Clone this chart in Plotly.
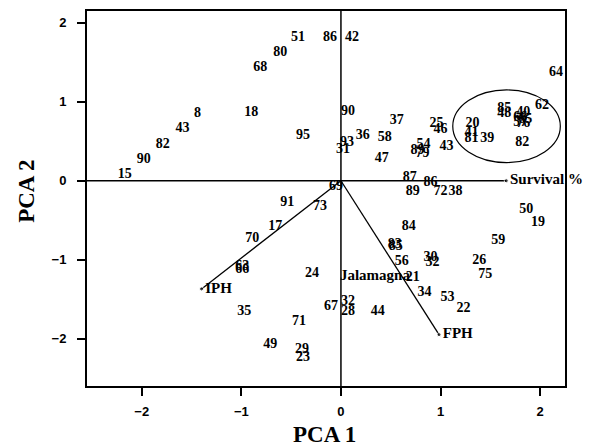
import plotly.graph_objects as go

# Genotype scores (PCA 1, PCA 2)
labels = ["51", "86", "42", "80", "68", "18", "8", "43", "82", "90", "15", "95",
          "90", "37", "36", "93", "31", "58", "47", "25", "46", "54", "89", "79", "43",
          "87", "89", "86", "72", "38",
          "20", "41", "81", "39", "82", "85", "48", "40", "66", "65", "76", "57", "62", "64",
          "69", "91", "73", "17", "70", "63", "66", "24", "35", "67", "71", "49", "29", "23",
          "32", "28", "44", "83", "85", "56",
          "84", "30", "32", "21", "34", "53", "22", "26", "75", "59", "50", "19"]
pc1 = [-0.43, -0.11, 0.11, -0.61, -0.81, -0.90, -1.44, -1.59, -1.79, -1.98, -2.17, -0.38,
       0.07, 0.56, 0.22, 0.06, 0.02, 0.44, 0.41, 0.96, 1.00, 0.83, 0.77, 0.82, 1.06,
       0.69, 0.72, 0.90, 1.00, 1.15,
       1.32, 1.31, 1.31, 1.47, 1.82, 1.64, 1.64, 1.83, 1.80, 1.85, 1.83, 1.80, 2.02, 2.16,
       -0.05, -0.54, -0.21, -0.66, -0.89, -0.99, -0.99, -0.29, -0.97, -0.10, -0.42, -0.71, -0.39, -0.38,
       0.07, 0.07, 0.37, 0.54, 0.55, 0.61,
       0.68, 0.90, 0.92, 0.72, 0.84, 1.07, 1.23, 1.39, 1.45, 1.58, 1.86, 1.98]
pc2 = [1.82, 1.82, 1.81, 1.63, 1.43, 0.86, 0.85, 0.66, 0.46, 0.27, 0.08, 0.57,
       0.88, 0.76, 0.57, 0.48, 0.40, 0.55, 0.28, 0.73, 0.65, 0.46, 0.38, 0.35, 0.44,
       0.04, -0.14, -0.02, -0.14, -0.14,
       0.73, 0.61, 0.54, 0.54, 0.49, 0.91, 0.85, 0.86, 0.80, 0.78, 0.72, 0.74, 0.95, 1.37,
       -0.07, -0.28, -0.33, -0.58, -0.73, -1.08, -1.12, -1.18, -1.66, -1.59, -1.78, -2.08, -2.14, -2.24,
       -1.53, -1.65, -1.65, -0.81, -0.83, -1.02,
       -0.58, -0.97, -1.03, -1.22, -1.42, -1.48, -1.62, -1.01, -1.19, -0.76, -0.36, -0.53]

# Trait vectors
vec_names = ["Survival %", "IPH", "FPH"]
vec_x = [1.66, -1.40, 0.985]
vec_y = [0.0, -1.37, -1.95]

# Extra label
extra_label = ["Jalamagna"]
extra_x = [-0.01]
extra_y = [-1.21]

# Ellipse around cluster
ell_cx, ell_cy, ell_rx, ell_ry = 1.663, 0.69, 0.54, 0.46

x_range = [-2.55, 2.25]
y_range = [-2.6, 2.15]
x_ticks = [-2, -1, 0, 1, 2]
y_ticks = [-2, -1, 0, 1, 2]

serif = "Liberation Serif"
fig = go.Figure()

fig.add_trace(go.Scatter(
    x=pc1, y=pc2, text=labels, mode="text", textposition="middle center",
    textfont=dict(family=serif, size=14, color="black", weight="bold"),
    showlegend=False, hoverinfo="text"))

for name, vx, vy in zip(vec_names, vec_x, vec_y):
    fig.add_trace(go.Scatter(
        x=[0, vx], y=[0, vy], mode="lines+markers",
        line=dict(color="black", width=1.3),
        marker=dict(size=[0, 4], color="black"),
        showlegend=False, hoverinfo="skip"))
    fig.add_trace(go.Scatter(
        x=[vx], y=[vy], text=[" " + name], mode="text", textposition="middle right",
        textfont=dict(family=serif, size=15, color="black", weight="bold"),
        showlegend=False, hoverinfo="skip", cliponaxis=False))

fig.add_trace(go.Scatter(
    x=extra_x, y=extra_y, text=extra_label, mode="text", textposition="middle right",
    textfont=dict(family=serif, size=15, color="black", weight="bold"),
    showlegend=False, hoverinfo="skip"))

# vertical zero line and left part of horizontal zero line
fig.add_shape(type="line", x0=0, x1=0, y0=0, y1=1, xref="x", yref="y domain",
              line=dict(color="black", width=1.5))
fig.add_shape(type="line", x0=x_range[0], x1=0, y0=0, y1=0, xref="x", yref="y",
              line=dict(color="black", width=1.5))
fig.add_shape(type="circle", x0=ell_cx - ell_rx, x1=ell_cx + ell_rx,
              y0=ell_cy - ell_ry, y1=ell_cy + ell_ry, xref="x", yref="y",
              line=dict(color="black", width=1.2))

axis_common = dict(showgrid=False, zeroline=False, showline=True, mirror=True,
                   linecolor="black", linewidth=2, ticks="outside", ticklen=8,
                   tickcolor="black", tickwidth=1.5, automargin=False,
                   tickfont=dict(family="Liberation Sans", size=13, color="black", weight="bold"))

# page body has an 8px margin, so the figure is sized to fit the 602x446 window
fig.update_layout(
    width=594, height=438,
    margin=dict(l=79, r=37, t=3, b=60),
    paper_bgcolor="white", plot_bgcolor="white",
    xaxis=dict(range=x_range, tickvals=x_ticks, ticklabelstandoff=4, **axis_common),
    yaxis=dict(range=y_range, tickvals=y_ticks, ticklabelstandoff=8, **axis_common),
    annotations=[
        dict(text="PCA 1", xref="paper", yref="paper", x=0.496, y=-0.128,
             xanchor="center", yanchor="middle", showarrow=False,
             font=dict(family=serif, size=23, color="black", weight="bold")),
        dict(text="PCA 2", xref="paper", yref="paper", x=-0.128, y=0.52,
             xanchor="center", yanchor="middle", showarrow=False, textangle=-90,
             font=dict(family=serif, size=23, color="black", weight="bold")),
    ],
)

fig.write_html("out.html")
